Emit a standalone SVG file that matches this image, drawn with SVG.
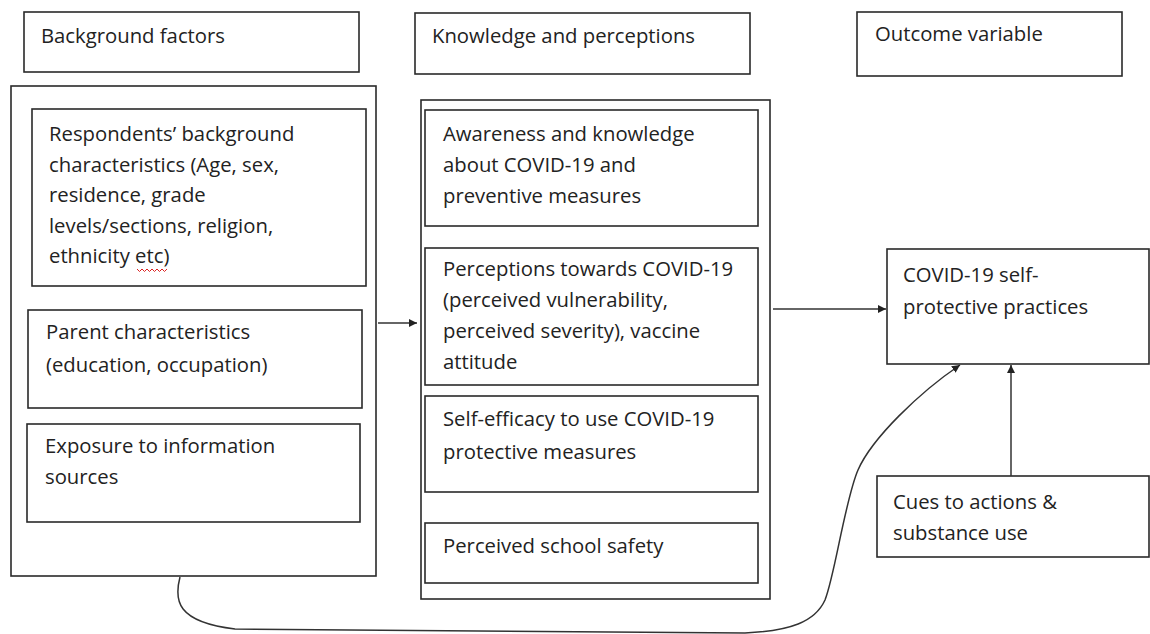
<svg xmlns="http://www.w3.org/2000/svg" width="1150" height="634" viewBox="0 0 1150 634">
<style>
rect{fill:#fff;stroke:#2a2a2a;stroke-width:1.6}
text{font-family:"Open Sans","Liberation Sans",sans-serif;font-size:20.3px;fill:#222}
.c{fill:none;stroke:#333;stroke-width:1.5}
</style>
<defs>
<marker id="ah" viewBox="0 0 10 10" refX="10" refY="5" markerWidth="8" markerHeight="8" markerUnits="userSpaceOnUse" orient="auto"><path d="M0,0 L10,5 L0,10 z" fill="#222"/></marker>
</defs>
<rect x="0" y="0" width="1150" height="634" style="stroke:none"/>
<g id="hdr-background"><rect x="24" y="12" width="335" height="60"/><text x="41" y="43">Background factors</text></g>
<g id="hdr-knowledge"><rect x="415" y="13" width="335" height="61"/><text x="432" y="43">Knowledge and perceptions</text></g>
<g id="hdr-outcome"><rect x="857" y="12" width="265" height="64"/><text x="875" y="41">Outcome variable</text></g>
<g id="group-background"><rect x="11" y="86" width="365" height="490"/></g>
<g id="respondents"><rect x="32" y="109" width="334" height="177"/>
<text x="49" y="141">Respondents’ background</text>
<text x="49" y="172">characteristics (Age, sex,</text>
<text x="49" y="202">residence, grade</text>
<text x="49" y="233">levels/sections, religion,</text>
<text x="49" y="263">ethnicity etc)</text>
<path d="M137,269 l2.5,2.5 l2.5,-2.5 l2.5,2.5 l2.5,-2.5 l2.5,2.5 l2.5,-2.5 l2.5,2.5 l2.5,-2.5 l2.5,2.5 l2.5,-2.5 l2.5,2.5 l2.5,-2.5" fill="none" stroke="#d22" stroke-width="1"/>
</g>
<g id="parent"><rect x="28" y="310" width="334" height="98"/>
<text x="46" y="339">Parent characteristics</text>
<text x="46" y="372">(education, occupation)</text></g>
<g id="exposure"><rect x="27" y="424" width="333" height="98"/>
<text x="45" y="453">Exposure to information</text>
<text x="45" y="484">sources</text></g>
<g id="group-knowledge"><rect x="421" y="100" width="349" height="499"/></g>
<g id="awareness"><rect x="425" y="110" width="333" height="116"/>
<text x="443" y="141">Awareness and knowledge</text>
<text x="443" y="172">about COVID-19 and</text>
<text x="443" y="203">preventive measures</text></g>
<g id="perceptions"><rect x="425" y="248" width="333" height="137"/>
<text x="443" y="276">Perceptions towards COVID-19</text>
<text x="443" y="307">(perceived vulnerability,</text>
<text x="443" y="338">perceived severity), vaccine</text>
<text x="443" y="369">attitude</text></g>
<g id="selfefficacy"><rect x="425" y="396" width="333" height="96"/>
<text x="443" y="426">Self-efficacy to use COVID-19</text>
<text x="443" y="459">protective measures</text></g>
<g id="schoolsafety"><rect x="425" y="523" width="333" height="60"/>
<text x="443" y="553">Perceived school safety</text></g>
<g id="practices"><rect x="887" y="249" width="262" height="115"/>
<text x="903" y="282">COVID-19 self-</text>
<text x="903" y="314">protective practices</text></g>
<g id="cues"><rect x="877" y="476" width="272" height="81"/>
<text x="893" y="509">Cues to actions &amp;</text>
<text x="893" y="540">substance use</text></g>
<g id="connectors">
<path class="c" d="M378,323 L417,323" marker-end="url(#ah)"/>
<path class="c" d="M773,309 L886,309" marker-end="url(#ah)"/>
<path class="c" d="M1011,476 L1011,365" marker-end="url(#ah)"/>
<path class="c" d="M180,577 C174,600 176,622 235,629 L745,633 C790,631 815,622 825,600 C835,575 845,500 858,470 C872,438 920,392 960,365" marker-end="url(#ah)"/>
</g>
</svg>
